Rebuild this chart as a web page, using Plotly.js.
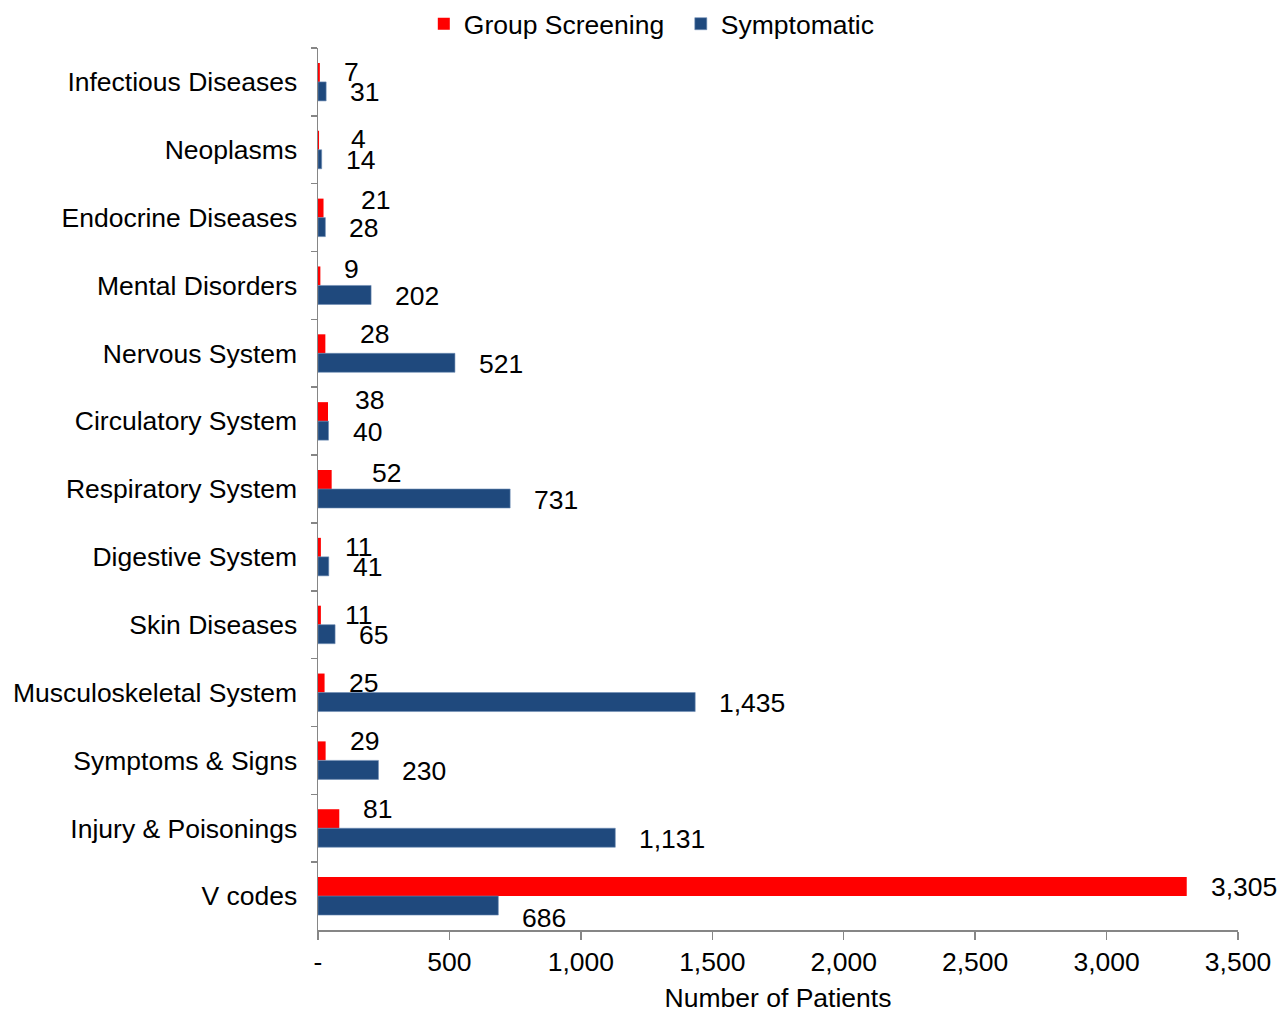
<!DOCTYPE html>
<html>
<head>
<meta charset="utf-8">
<script src="https://cdn.plot.ly/plotly-3.0.1.min.js"></script>
<style>html,body{margin:0;padding:0;background:#fff}#chart{width:1287px;height:1013px}</style>
</head>
<body>
<div id="chart"></div>
<script>
// ---- data ----
var categories = ["Infectious Diseases","Neoplasms","Endocrine Diseases","Mental Disorders","Nervous System","Circulatory System","Respiratory System","Digestive System","Skin Diseases","Musculoskeletal System","Symptoms & Signs","Injury & Poisonings","V codes"];
var groupScreening = [7,4,21,9,28,38,52,11,11,25,29,81,3305];
var symptomatic = [31,14,28,202,521,40,731,41,65,1435,230,1131,686];
var xTickVals = [0,500,1000,1500,2000,2500,3000,3500];
var xTickText = ["-","500","1,000","1,500","2,000","2,500","3,000","3,500"];

// ---- label nudges (style only, pixels) ----
var redNudgeY = [0,-1,-8,-7,-10,-12,-7,0,0,0,-10,-10,0];
var redNudgeX = [0,8,13,0,11,3,16,0,0,0,0,0,0];
var blueNudgeY = [1,1,1,1,1,1,1,1,1,1,1,1,12];

var FONT = "Liberation Sans, Arial, sans-serif";
var FS = 26.5;
function fmt(v){ return v.toLocaleString('en-US'); }

var traces = [
  {type:'bar', orientation:'h', name:'Group Screening', y:categories, x:groupScreening,
   marker:{color:'#FF0000'}, hoverinfo:'x'},
  {type:'bar', orientation:'h', name:'Symptomatic', y:categories, x:symptomatic,
   marker:{color:'#1F497D', line:{color:'#6F8DB5', width:0.6}}, hoverinfo:'x'}
];

var annotations = [];
categories.forEach(function(c,i){
  annotations.push({x:groupScreening[i], y:c, xref:'x', yref:'y', text:fmt(groupScreening[i]),
    showarrow:false, xanchor:'left', yanchor:'middle', xshift:22+redNudgeX[i], yshift:9.5-redNudgeY[i],
    font:{family:FONT, size:FS, color:'#000'}});
  annotations.push({x:symptomatic[i], y:c, xref:'x', yref:'y', text:fmt(symptomatic[i]),
    showarrow:false, xanchor:'left', yanchor:'middle', xshift:22, yshift:-9.5-blueNudgeY[i],
    font:{family:FONT, size:FS, color:'#000'}});
});

var layout = {
  width:1287, height:1013,
  margin:{l:318, r:49, t:47, b:83},
  paper_bgcolor:'#fff', plot_bgcolor:'#fff',
  font:{family:FONT, size:FS, color:'#000'},
  barmode:'group', bargap:0.44, bargroupgap:0,
  showlegend:true,
  legend:{orientation:'h', x:0.115, xanchor:'left', yref:'container', y:1, yanchor:'top', font:{size:FS},
    traceorder:'normal', itemwidth:30, entrywidth:212, entrywidthmode:'pixels'},
  xaxis:{range:[0,3500], tickvals:xTickVals, ticktext:xTickText, ticks:'outside', ticklen:8, tickwidth:1.5, tickcolor:'#868686',
    showline:true, linecolor:'#868686', linewidth:1.5, showgrid:false, zeroline:false,
    title:{text:'Number of Patients', font:{size:FS}, standoff:19}, tickfont:{size:FS}},
  yaxis:{type:'category', autorange:'reversed', tickson:'boundaries', ticks:'outside', ticklen:6, tickwidth:1.5, tickcolor:'#868686',
    showline:true, linecolor:'#868686', linewidth:1.5, showgrid:false, zeroline:false, tickfont:{size:FS}, ticklabelstandoff:14},
  annotations:annotations
};

Plotly.newPlot('chart', traces, layout, {displayModeBar:false, staticPlot:true});
</script>
</body>
</html>
